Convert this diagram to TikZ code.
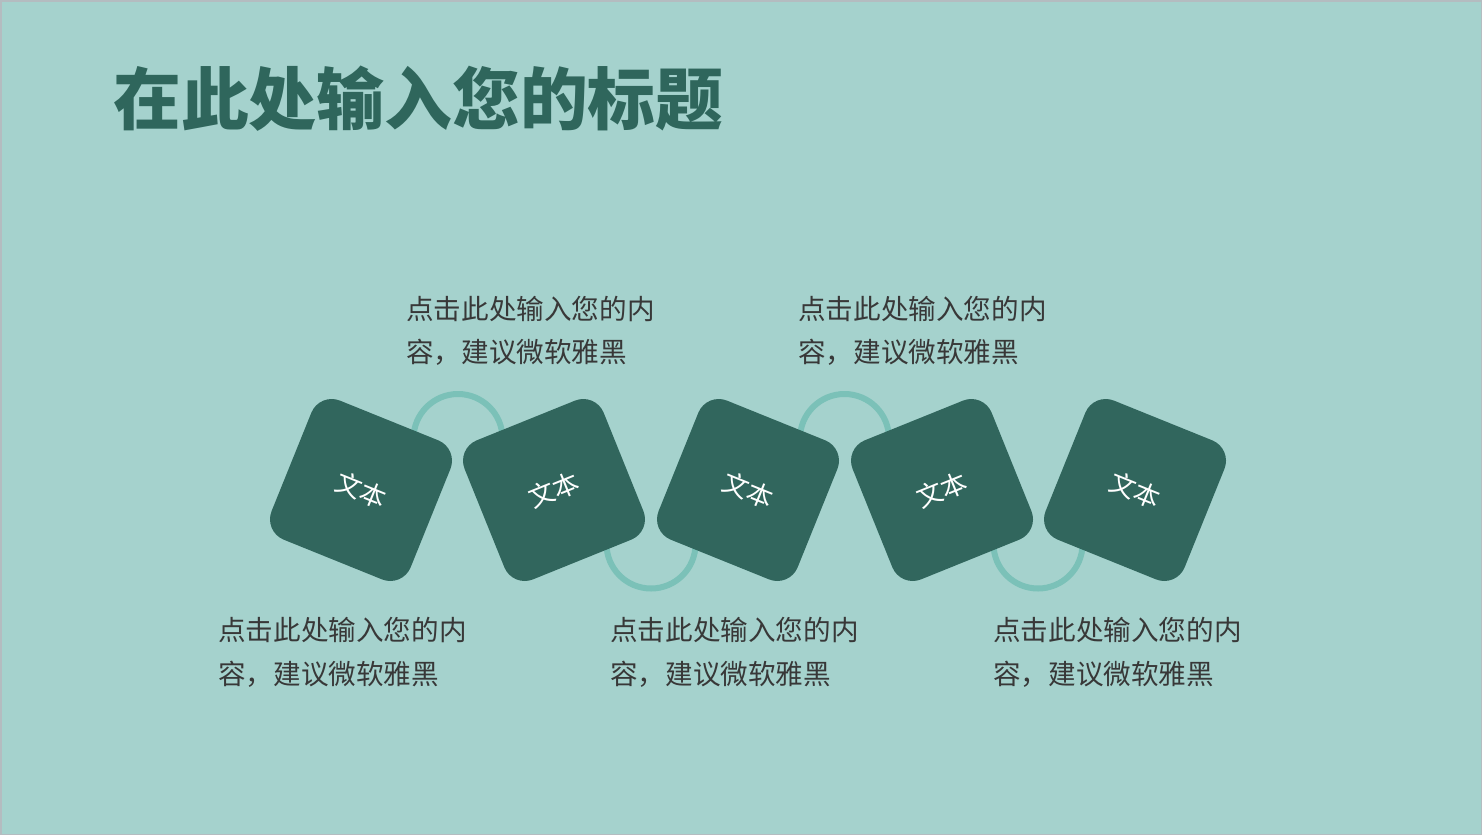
\documentclass[tikz,border=0pt]{standalone}
\usepackage{fontspec}
\newfontfamily\cjk{Noto Sans CJK SC}
\definecolor{bgc}{HTML}{A5D2CD}
\definecolor{boxc}{HTML}{31665D}
\definecolor{ringc}{HTML}{7BC1B8}
\definecolor{titlec}{HTML}{2F665C}
\definecolor{labc}{HTML}{383838}
\definecolor{edgec}{HTML}{B4BCC0}
\tikzset{
  tile/.style={fill=boxc, draw=none, minimum width=150pt, minimum height=150pt,
    rounded corners=22pt, inner sep=0pt, text=white, font=\cjk\fontsize{26}{26}\selectfont},
  ring/.style={draw=ringc, line width=6pt},
  lab/.style={anchor=base west, inner sep=0pt, text=labc, font=\cjk\fontsize{27.6}{27.6}\selectfont},
}
\begin{document}
\begin{tikzpicture}[x=1pt,y=-1pt]
\useasboundingbox (0,0) rectangle (1482,835);
\fill[bgc] (0,0) rectangle (1482,835);
\draw[edgec, line width=1.5pt] (0.75,0.75) rectangle (1481.25,834.25);
% title
\node[anchor=base west, inner sep=0pt, text=titlec, font=\cjk\bfseries\fontsize{67.8}{67.8}\selectfont] (title) at (113,124) {在此处输入您的标题};
% half rings (behind tiles)
\draw[ring] (458,438.5) ++(-44.5,0) arc[start angle=180, end angle=360, radius=44.5];
\draw[ring] (844.5,438.5) ++(-44.5,0) arc[start angle=180, end angle=360, radius=44.5];
\draw[ring] (651,544) ++(-44.5,0) arc[start angle=180, end angle=0, radius=44.5];
\draw[ring] (1038,544) ++(-44.5,0) arc[start angle=180, end angle=0, radius=44.5];
% tiles
\node[tile, rotate=-22] (t1) at (361,490) {文本};
\node[tile, rotate=22] (t2) at (554,490) {文本};
\node[tile, rotate=-22] (t3) at (748,490) {文本};
\node[tile, rotate=22] (t4) at (942,490) {文本};
\node[tile, rotate=-22] (t5) at (1135,490) {文本};
% labels
\node[lab] (l1a) at (406,319.5) {点击此处输入您的内};
\node[lab] (l1b) at (406,362.5) {容，建议微软雅黑};
\node[lab] (l2a) at (798,319.5) {点击此处输入您的内};
\node[lab] (l2b) at (798,362.5) {容，建议微软雅黑};
\node[lab] (l3a) at (218,640.5) {点击此处输入您的内};
\node[lab] (l3b) at (218,684.5) {容，建议微软雅黑};
\node[lab] (l4a) at (610,640.5) {点击此处输入您的内};
\node[lab] (l4b) at (610,684.5) {容，建议微软雅黑};
\node[lab] (l5a) at (993,640.5) {点击此处输入您的内};
\node[lab] (l5b) at (993,684.5) {容，建议微软雅黑};
\end{tikzpicture}
\end{document}
